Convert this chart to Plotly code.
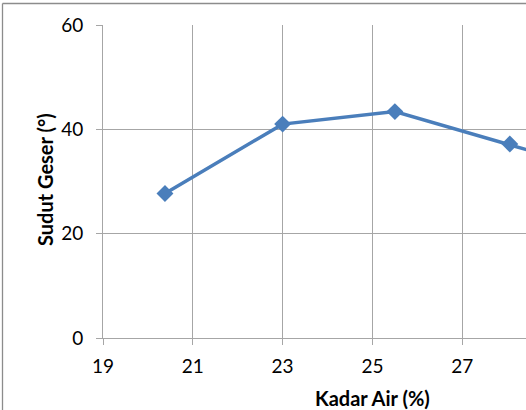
import plotly.graph_objects as go

# Water content (%) vs. internal friction angle (degrees)
kadar_air = [20.38, 23.0, 25.5, 28.06, 30.0]
sudut_geser = [27.7, 41.0, 43.4, 37.2, 32.2]

x_ticks = [19, 21, 23, 25, 27, 29, 31]
y_ticks = [0, 20, 40, 60]

W, H = 526, 410
L, T, B = 103, 25, 72
plot_w = W - L
plot_h = H - T - B

GRID = "#a6a6a6"
BORDER = "#8c8c8c"
FONT = "Lato, 'Open Sans', sans-serif"


def px_x(p):
    return (p - L) / plot_w


def px_y(p):
    return (H - B - p) / plot_h


fig = go.Figure()
fig.add_trace(go.Scatter(
    x=kadar_air, y=sudut_geser, mode="lines+markers",
    line=dict(color="#4a7ebb", width=3.5),
    marker=dict(symbol="diamond", size=13, color="#4a7ebb"),
    showlegend=False,
))

fig.update_layout(
    width=W, height=H,
    margin=dict(l=L, r=0, t=T, b=B),
    paper_bgcolor="white", plot_bgcolor="white",
    font=dict(family=FONT, size=19, color="black"),
    xaxis=dict(
        range=[19, 28.42], tickvals=x_ticks, showgrid=True, gridcolor=GRID,
        gridwidth=1, showline=True, linecolor=GRID, linewidth=1,
        ticks="outside", ticklen=6, tickcolor=GRID, zeroline=False,
        ticklabelstandoff=5,
    ),
    yaxis=dict(
        range=[0, 60], tickvals=y_ticks, showgrid=True, gridcolor=GRID,
        gridwidth=1, showline=True, linecolor=GRID, linewidth=1,
        ticks="outside", ticklen=6, tickcolor=GRID, zeroline=False,
        ticklabelstandoff=9,
    ),
    shapes=[
        dict(type="line", xref="paper", yref="paper",
             x0=px_x(2.5), x1=px_x(600), y0=px_y(3.5), y1=px_y(3.5),
             line=dict(color=BORDER, width=1.3)),
        dict(type="line", xref="paper", yref="paper",
             x0=px_x(2.5), x1=px_x(2.5), y0=px_y(3.5), y1=px_y(450),
             line=dict(color=BORDER, width=1.3)),
    ],
    annotations=[
        dict(text="<b>Kadar Air (%)</b>", xref="paper", yref="paper",
             x=px_x(372), y=px_y(398), showarrow=False,
             xanchor="center", yanchor="middle", font=dict(size=20)),
        dict(text="<b>Sudut Geser (°)</b>", xref="paper", yref="paper",
             x=px_x(45), y=px_y(180), showarrow=False, textangle=-90,
             xanchor="center", yanchor="middle", font=dict(size=20)),
    ],
)

fig.write_html("out.html")
